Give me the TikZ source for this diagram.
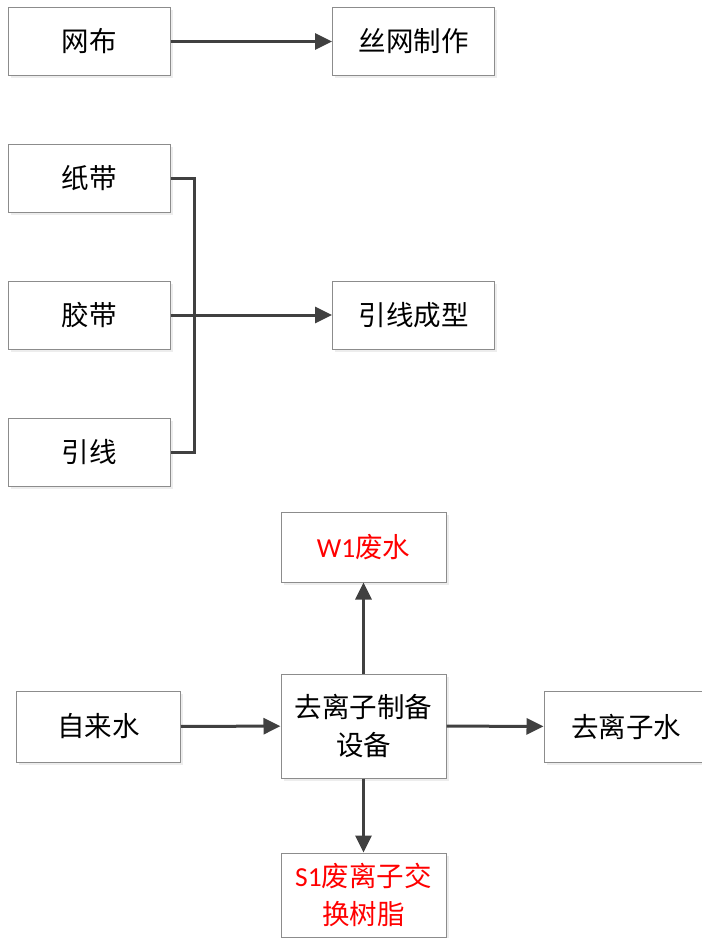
\documentclass[tikz,border=0pt]{standalone}
\usepackage{fontspec}
\setmainfont{Noto Sans CJK SC}
\newfontfamily\latfont{Carlito}
\usetikzlibrary{arrows.meta,shadows}

\definecolor{boxgray}{HTML}{8C8C8C}
\definecolor{linegray}{HTML}{404040}

\tikzset{
	procbox/.style={draw=boxgray, line width=1pt, fill=white, minimum width=162pt, minimum height=68pt, align=center,
		font=\fontsize{27.5}{38}\selectfont, drop shadow={shadow xshift=2.5pt, shadow yshift=-2.5pt, fill=black!7, opacity=1}},
	flow/.style={draw=linegray, line width=3pt, -{Triangle[length=17pt,width=16pt]}},
	busline/.style={draw=linegray, line width=3pt}
}

\begin{document}
\begin{tikzpicture}[x=1pt,y=-1pt]
	  \clip (0,0) rectangle (702,938);   % page frame

	  % screen mesh
	  \node[procbox] (wangbu) at (89,41.5) {网布};
	  \node[procbox] (siwang) at (413.5,41.5) {丝网制作};
	  \draw[flow] (wangbu) -- (siwang);

	  % lead forming
	  \node[procbox] (zhidai) at (89,178) {纸带};
	  \node[procbox] (jiaodai) at (89,315) {胶带};
	  \node[procbox] (yinxian) at (89,452) {引线};
	  \node[procbox] (chengxing) at (413.5,315) {引线成型};
	  \coordinate (bus) at (194,315);
	  \draw[busline] (zhidai.east) -- (zhidai.east -| bus) -- (yinxian.east -| bus) -- (yinxian.east);
	  \draw[flow] (jiaodai) -- (chengxing);

	  % deionised water
	  \node[procbox, minimum width=165pt, minimum height=104pt] (shebei) at (363.5,726) {去离子制备\\设备};
	  \node[procbox, minimum width=165pt, minimum height=70pt, text=red] (feishui) at (363.5,547) {{\latfont W1}废水};
	  \node[procbox, minimum width=164pt, minimum height=71pt] (zilaishui) at (98.5,726.5) {自来水};
	  \node[procbox, minimum width=164pt, minimum height=71pt] (chunshui) at (626,726.5) {去离子水};
	  \node[procbox, minimum width=165pt, minimum height=84pt, text=red] (shuzhi) at (363.5,895) {{\latfont S1}废离子交\\换树脂};
	  \draw[flow] (zilaishui) -- (shebei);
	  \draw[flow] (shebei) -- (chunshui);
	  \draw[flow] (shebei) -- (feishui);
	  \draw[flow] (shebei) -- (shuzhi);

	\end{tikzpicture}
\end{document}
